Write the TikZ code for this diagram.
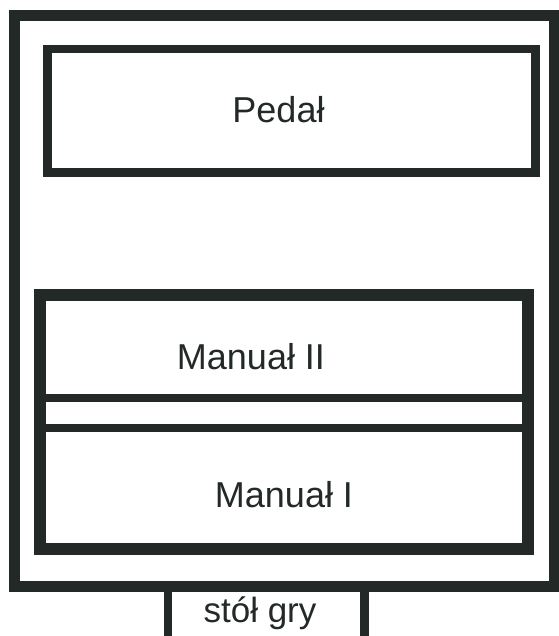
\documentclass[tikz,border=0pt]{standalone}
\usepackage{fontspec}
\setmainfont{Liberation Sans}
\definecolor{ink}{HTML}{222927}
\begin{document}
\begin{tikzpicture}[x=1pt,y=-1pt,
  frame/.style={draw=ink,rectangle,inner sep=0pt,fill=none},
  lbl/.style={anchor=base,inner sep=0pt,text=ink,font=\fontsize{36}{40}\selectfont}]
\useasboundingbox[fill=white] (0,0) rectangle (558,636);
% table box (under outer frame)
\node[frame,fill=white,line width=8.5pt,minimum width=196.5pt,minimum height=59pt] (stol) at (266.25,615.5) {};
% outer frame
\node[frame,line width=11pt,minimum width=540pt,minimum height=570.5pt] (outer) at (284.5,301.25) {};
% pedal
\node[frame,line width=8.5pt,minimum width=488pt,minimum height=123.5pt] (pedal) at (291.5,110.75) {};
% manuals
\node[frame,line width=12pt,minimum width=488pt,minimum height=254pt] (manual) at (284,422) {};
\coordinate (l1a) at (40,398); \coordinate (l1b) at (528,398);
\coordinate (l2a) at (40,427.5); \coordinate (l2b) at (528,427.5);
\draw[ink,line width=8pt] (l1a) -- (l1b);
\draw[ink,line width=8pt] (l2a) -- (l2b);
% labels
\node[lbl] (tpedal) at (278.5,123) {Pedał};
\node[lbl] (tm2) at (251,369) {Manuał II};
\node[lbl] (tm1) at (284,507) {Manuał I};
\node[lbl,font=\fontsize{35}{40}\selectfont] (tstol) at (260,622) {stół gry};
\end{tikzpicture}
\end{document}
